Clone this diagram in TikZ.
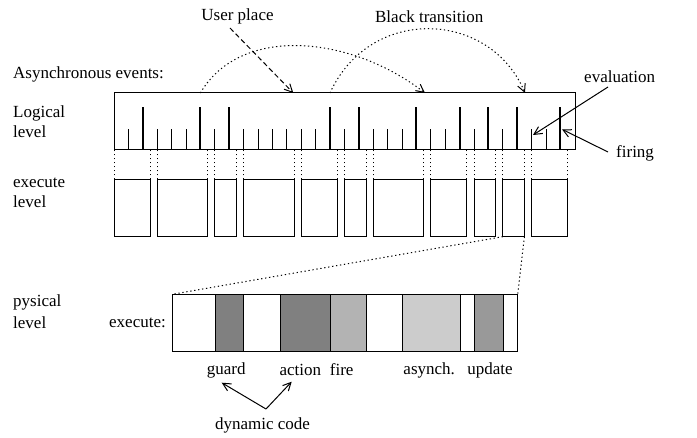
\documentclass[tikz,border=0pt]{standalone}
\usepackage{fontspec}
\setmainfont{Liberation Serif}
\usetikzlibrary{arrows.meta}
\definecolor{shadeA}{HTML}{808080}
\definecolor{shadeB}{HTML}{B3B3B3}
\definecolor{shadeC}{HTML}{CCCCCC}
\definecolor{shadeD}{HTML}{999999}
\begin{document}
\begin{tikzpicture}[x=1pt,y=-1pt,
  font=\fontsize{17}{20}\selectfont,
  lbl/.style={inner sep=0pt, anchor=west, align=left},
  word/.style={inner sep=0pt},
  frame/.style={draw, line width=1pt, inner sep=0pt, outer sep=0pt, anchor=north west},
  shorttick/.style={line width=1pt},
  talltick/.style={line width=2pt},
  guide/.style={line width=1pt, dash pattern=on 1.3pt off 2.7pt},
  arc/.style={line width=1pt, dash pattern=on 1.3pt off 2.7pt},
  tip/.style={-{Straight Barb[length=8pt,width=8pt,line width=1pt]}},
  plain/.style={line width=1pt}]
\useasboundingbox (0,0) rectangle (697,438);

% level labels
\node[lbl] (asy) at (13,74) {Asynchronous events:};
\node[lbl] (logl) at (13,122) {Logical\\level};
\node[lbl] (exel) at (13,192.5) {execute\\level};
\node[lbl, font=\fontsize{17}{22}\selectfont] (phyl) at (13,311.5) {pysical\\level};

% logical level: box with ticks (unit 14.4)
\node[frame, minimum width=461.7pt, minimum height=57pt] (logbox) at (114,93) {};
\foreach \k in {1,3,4,5,7,9,10,11,12,13,14,16,18,19,20,22,23,25,27,29,30}
  \draw[shorttick] (logbox.south west) ++(\k*14.4,0) -- ++(0,-21.3);
\foreach \k in {2,6,8,15,17,21,24,26,28,31}
  \draw[talltick] (logbox.south west) ++(\k*14.4,0) -- ++(0,-43.3);

% execute level boxes, edges given in tick units
\foreach \a/\b [count=\i] in {0/2.5,3/6.5,7/8.5,9/12.5,13/15.5,16/17.5,18/21.5,22/24.5,25/26.5,27/28.5,29/31.5}{
  \node[frame, minimum width={(\b-\a)*14.4pt}, minimum height=57.4pt] (ex\i) at ({114+\a*14.4},179.3) {};
  \draw[guide] (ex\i.north west) -- (ex\i.north west |- logbox.south);
  \draw[guide] (ex\i.north east) -- (ex\i.north east |- logbox.south);
}

% physical level: one execute slot split into phases
\node[word, anchor=east] (exe) at (166,323) {execute:};
\foreach \a/\b/\c [count=\i] in {172.3/215.3/white,215.3/243.7/shadeA,243.7/280/white,280/330.7/shadeA,330.7/366.7/shadeB,366.7/402.7/white,402.7/460.3/shadeC,460.3/474.7/white,474.7/503.3/shadeD,503.3/517.7/white}
  \node[frame, fill=\c, minimum width={(\b-\a)*1pt}, minimum height=57.4pt] (ph\i) at (\a,294.3) {};
\draw[guide] (ex10.south west) -- (ph1.north west);
\draw[guide] (ex10.south east) -- (ph10.north east);

% phase names
\node[word] (guard) at (226.3,370) {guard};
\node[word] (action) at (300.3,370) {action};
\node[word] (fire) at (341.7,370) {fire};
\node[word] (asynch) at (429.2,370) {asynch.};
\node[word] (update) at (490,370) {update};
\node[word] (dyn) at (262.5,425) {dynamic code};
\coordinate (fork) at (266,409);
\coordinate (gtip) at (221.7,382.7);
\coordinate (atip) at (291.7,381.7);
\draw[plain,tip] (fork) -- (gtip);
\draw[plain,tip] (fork) -- (atip);

% top annotations
\node[word] (user) at (237.5,16.7) {User place};
\node[word] (black) at (429.2,16.7) {Black transition};
\coordinate (userfrom) at (230,28);
\coordinate (userto) at (293.3,93);
\draw[line width=1pt, dash pattern=on 5pt off 3pt, tip] (userfrom) -- (userto);

\coordinate (arcAs) at (200.4,93);
\coordinate (arcAe) at (425,93);
\coordinate (arcBs) at (330,93);
\coordinate (arcBe) at (525,93);
\draw[arc,tip] (arcAs) .. controls (240,25) and (350,35) .. (arcAe);
\draw[arc,tip] (arcBs) .. controls (370,5) and (490,10) .. (arcBe);

% right annotations
\node[lbl] (eval) at (584,77) {evaluation};
\node[lbl] (firing) at (616,153) {firing};
\coordinate (evalfrom) at (608,87);
\coordinate (evalto) at (533,135);
\coordinate (firefrom) at (608,152);
\coordinate (fireto) at (562,129.3);
\draw[plain,tip] (evalfrom) -- (evalto);
\draw[plain,tip] (firefrom) -- (fireto);
\end{tikzpicture}
\end{document}
